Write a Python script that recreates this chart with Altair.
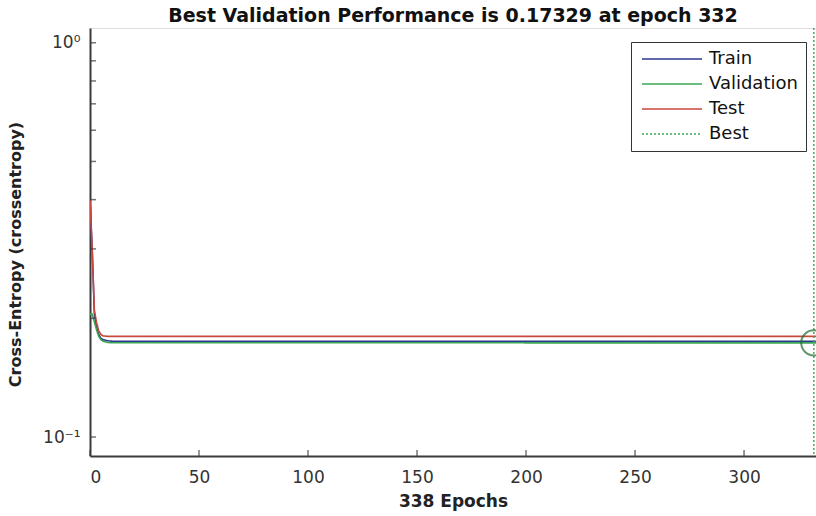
import altair as alt
import pandas as pd

# ---- data ----
epochs = [0, 1, 2, 3, 4, 5, 6, 8, 10, 332, 338]
train = [0.40, 0.30, 0.205, 0.19, 0.182, 0.178, 0.1765, 0.1755, 0.175, 0.175, 0.175]
validation = [0.205, 0.205, 0.196, 0.187, 0.18, 0.1765, 0.175, 0.1738, 0.1734, 0.17329, 0.17329]
test = [0.40, 0.30, 0.21, 0.195, 0.186, 0.182, 0.1805, 0.18, 0.18, 0.18, 0.18]
best_epoch = 332
best_value = 0.17329

series_names = ["Train", "Validation", "Test", "Best"]
series_colors = ["#2b3990", "#3aa655", "#c8483e", "#3aa655"]
series_dash = [[1, 0], [1, 0], [1, 0], [2, 2]]

y_tick_values = [0.1, 0.2, 0.3, 0.4, 0.5, 0.6, 0.7, 0.8, 0.9, 1.0]
x_tick_values = [0, 50, 100, 150, 200, 250, 300]

rows = []
for name, vals in [("Train", train), ("Validation", validation), ("Test", test)]:
    for e, v in zip(epochs, vals):
        rows.append({"epoch": e, "value": v, "series": name})
lines_df = pd.DataFrame(rows)
best_df = pd.DataFrame({"epoch": [best_epoch], "value": [best_value], "series": ["Best"]})
ytick_df = pd.DataFrame({"value": y_tick_values})
xtick_df = pd.DataFrame({"epoch": x_tick_values})

FONT = "DejaVu Sans"
AX = "#3a3a3a"

xscale = alt.Scale(domain=[0, 333], nice=False, zero=False)
yscale = alt.Scale(type="log", domain=[0.0895, 1.09], nice=False)


def make_legend():
    return alt.Legend(
        title=None,
        orient="none",
        legendX=541,
        legendY=14,
        symbolType="M-1,0H9",
        symbolSize=144,
        symbolStrokeWidth=1.6,
        labelOffset=52,
        labelFontSize=18,
        labelFont=FONT,
        labelColor="#111",
        rowPadding=7,
        padding=8,
        strokeColor="#333",
        fillColor="white",
        labelLimit=220,
    )


color = alt.Color(
    "series:N",
    scale=alt.Scale(domain=series_names, range=series_colors),
    legend=make_legend(),
)
dash = alt.StrokeDash(
    "series:N",
    scale=alt.Scale(domain=series_names, range=series_dash),
    legend=make_legend(),
)

x_enc = alt.X(
    "epoch:Q",
    scale=xscale,
    title="338 Epochs",
    axis=alt.Axis(
        values=x_tick_values,
        grid=False,
        tickSize=0,
        labelPadding=13,
        labelFontSize=17,
        labelFont=FONT,
        labelColor="#333",
        domainColor=AX,
        domainWidth=2,
        titleFont=FONT,
        titleFontSize=17,
        titleFontWeight="bold",
        titleColor="#222",
        titlePadding=8,
    ),
)
y_enc = alt.Y(
    "value:Q",
    scale=yscale,
    title="Cross-Entropy  (crossentropy)",
    axis=alt.Axis(
        values=y_tick_values,
        labelExpr="datum.value >= 0.99 ? '10⁰' : (datum.value < 0.11 ? '10⁻¹' : '')",
        grid=False,
        tickSize=0,
        labelPadding=10,
        labelFontSize=17,
        labelFont=FONT,
        labelColor="#333",
        domainColor=AX,
        domainWidth=2,
        titleFont=FONT,
        titleFontSize=16,
        titleFontWeight="bold",
        titleColor="#222",
        titleX=-67,
        titleY=226,
    ),
)

lines = alt.Chart(lines_df).mark_line(strokeWidth=1.6, clip=True).encode(
    x=x_enc, y=y_enc, color=color, strokeDash=dash, order="epoch:Q"
)

best_rule = alt.Chart(best_df).mark_rule(strokeWidth=1.4).encode(
    x="epoch:Q", color=color, strokeDash=dash
)

best_circle = alt.Chart(best_df).mark_point(
    shape="circle", size=640, filled=False, stroke="#1e6b2e", strokeWidth=2
).encode(x="epoch:Q", y="value:Q")

yticks = alt.Chart(ytick_df).mark_tick(
    orient="horizontal", color=AX, thickness=1.5, size=6
).encode(y="value:Q", x=alt.value(3))

xticks = alt.Chart(xtick_df).mark_tick(
    orient="vertical", color=AX, thickness=1.5, size=6
).encode(x="epoch:Q", y=alt.value(425))

chart = (
    alt.layer(lines, best_rule, best_circle, yticks, xticks)
    .properties(
        width=726,
        height=428,
        autosize=alt.AutoSizeParams(type="none"),
        padding={"left": 90, "top": 28, "right": 0, "bottom": 60},
        title=alt.TitleParams(
            "Best Validation Performance is 0.17329 at epoch 332",
            font=FONT,
            fontSize=19,
            fontWeight="bold",
            color="#111",
            anchor="middle",
            offset=1,
        ),
    )
    .configure_view(stroke=None)
    .configure(background="white")
)

chart.save("out.html", embed_options={"renderer": "svg", "actions": False})
